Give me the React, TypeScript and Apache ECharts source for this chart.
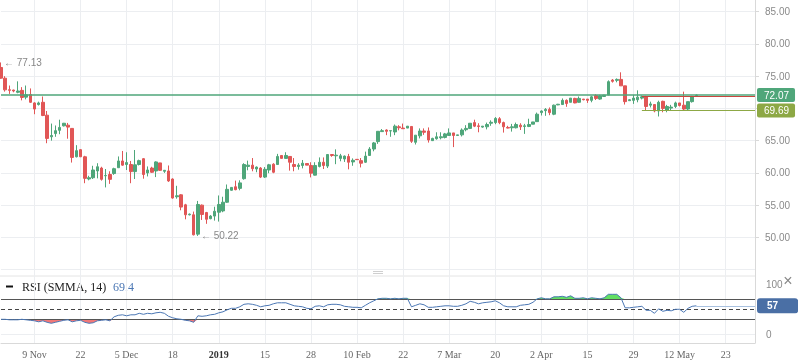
import React, { useEffect, useRef } from 'react';
import * as echarts from 'echarts';

// [open, close, low, high] per trading session
const candles: number[][] = [
  [76.35, 74.69, 74.6, 77.13], [74.69, 72.88, 72.6, 75.0], [72.9, 72.8, 72.25, 73.55], [72.85, 72.7, 72.5, 72.9],
  [72.5, 72.7, 72.35, 74.2], [72.8, 71.7, 71.25, 73.3], [71.75, 72.1, 71.4, 73.55], [72.15, 70.95, 70.85, 73.1],
  [70.85, 69.9, 69.1, 70.95], [70.6, 70.85, 70.45, 71.05], [70.95, 68.9, 68.8, 71.85], [68.95, 65.35, 64.6, 69.6],
  [65.6, 65.8, 65.0, 67.65], [66.1, 66.55, 65.6, 67.35], [66.6, 67.05, 66.0, 68.25], [67.3, 67.7, 67.2, 67.75],
  [67.4, 67.1, 65.3, 67.75], [66.9, 62.4, 61.6, 66.9], [62.5, 63.45, 62.4, 64.3], [63.6, 62.5, 62.45, 63.7],
  [62.5, 59.15, 58.4, 62.65], [59.05, 59.25, 58.85, 59.55], [59.25, 60.45, 59.05, 61.1], [60.3, 60.95, 59.15, 61.5],
  [60.75, 59.0, 58.8, 60.95], [59.55, 59.6, 57.75, 60.6], [59.75, 59.0, 58.3, 60.25], [59.9, 60.65, 59.7, 60.8],
  [60.8, 61.85, 60.8, 62.55], [61.85, 61.2, 61.1, 63.4], [61.3, 61.6, 60.45, 63.2], [61.3, 60.2, 58.4, 61.85],
  [60.2, 61.25, 59.05, 63.55], [61.3, 61.9, 61.15, 62.05], [62.2, 59.75, 59.1, 62.3], [60.0, 60.45, 59.45, 61.0],
  [60.75, 60.1, 60.0, 60.95], [60.3, 61.7, 59.35, 61.8], [61.55, 60.4, 60.3, 61.55], [60.25, 60.4, 60.0, 60.45],
  [60.3, 58.75, 58.6, 61.15], [59.05, 56.1, 56.0, 59.15], [56.3, 56.45, 56.0, 58.0], [56.6, 54.7, 54.2, 56.7],
  [55.05, 53.5, 52.8, 55.2], [53.5, 53.6, 53.4, 53.7], [53.5, 50.4, 50.3, 54.0], [50.5, 55.1, 50.22, 55.65],
  [55.0, 53.55, 52.7, 55.1], [53.85, 52.8, 52.1, 53.95], [52.9, 53.3, 52.8, 53.45], [53.3, 54.05, 52.6, 54.75],
  [53.9, 55.1, 52.45, 56.5], [54.1, 55.45, 53.9, 56.3], [55.45, 57.45, 55.35, 58.2], [57.3, 57.75, 57.25, 57.8],
  [57.85, 57.4, 57.3, 58.8], [57.6, 58.45, 57.3, 58.85], [59.1, 61.3, 58.95, 61.5], [61.0, 61.2, 60.4, 61.9],
  [61.2, 60.65, 60.25, 62.3], [60.6, 60.9, 60.1, 61.0], [60.75, 59.35, 59.2, 60.9], [59.35, 60.55, 59.2, 60.9],
  [60.45, 61.25, 59.95, 61.4], [61.35, 60.1, 59.95, 61.5], [61.3, 62.55, 61.25, 62.95], [62.7, 62.25, 62.25, 62.7],
  [62.25, 62.7, 62.2, 63.2], [62.55, 61.65, 60.35, 62.55], [61.3, 61.0, 60.25, 62.3], [61.0, 61.2, 60.5, 61.5],
  [61.15, 61.5, 60.7, 62.0], [61.45, 61.2, 61.2, 61.45], [61.15, 59.95, 59.3, 61.65], [59.65, 61.15, 59.6, 61.65],
  [61.0, 61.65, 60.85, 62.4], [61.65, 61.15, 60.6, 62.4], [61.05, 62.85, 60.75, 62.85], [62.85, 62.7, 62.5, 62.85],
  [62.65, 62.75, 61.35, 63.65], [62.25, 62.65, 61.8, 62.95], [62.15, 62.6, 61.7, 62.7], [62.55, 61.65, 60.55, 62.95],
  [61.7, 61.95, 61.1, 62.25], [62.1, 62.05, 62.05, 62.1], [61.9, 61.5, 60.85, 62.3], [61.65, 62.6, 61.55, 63.3],
  [62.7, 63.7, 62.7, 64.0], [63.7, 64.65, 63.35, 64.8], [64.85, 66.45, 64.5, 66.45], [66.4, 66.55, 66.4, 66.8],
  [66.65, 66.45, 65.85, 66.75], [66.5, 66.55, 65.6, 66.55], [66.35, 67.25, 65.85, 67.5], [67.15, 67.0, 66.6, 67.4],
  [66.95, 66.85, 66.85, 67.65], [66.95, 67.25, 66.95, 67.25], [67.2, 64.9, 64.65, 67.2], [64.75, 65.85, 64.4, 65.85],
  [65.75, 66.5, 65.35, 66.9], [66.5, 66.3, 65.9, 66.9], [66.5, 65.1, 64.7, 67.05], [65.0, 65.35, 64.95, 65.45],
  [65.3, 65.6, 65.15, 66.3], [65.45, 65.6, 65.2, 66.3], [65.5, 66.05, 65.35, 66.2], [65.8, 66.2, 65.8, 66.9],
  [66.2, 65.8, 64.0, 66.2], [65.8, 65.9, 65.8, 65.9], [65.9, 66.65, 65.65, 66.9], [66.7, 66.9, 66.45, 67.4],
  [66.9, 67.7, 66.8, 67.7], [67.8, 67.25, 67.1, 68.25], [67.3, 67.2, 66.3, 67.7], [67.1, 67.25, 67.0, 67.25],
  [67.15, 67.5, 66.75, 67.8], [67.7, 67.85, 67.3, 68.15], [67.8, 68.45, 67.55, 68.65], [68.4, 67.8, 67.55, 68.65],
  [67.8, 67.15, 66.25, 67.95], [67.05, 66.95, 66.9, 67.3], [67.0, 67.15, 66.4, 67.6], [67.0, 67.5, 66.9, 67.8],
  [67.4, 67.15, 66.65, 67.7], [67.2, 67.3, 66.05, 67.6], [67.2, 67.5, 67.1, 68.4], [67.55, 67.9, 67.55, 67.9],
  [67.95, 69.1, 67.9, 69.35], [69.35, 69.6, 68.9, 69.7], [69.65, 69.85, 68.85, 70.05], [69.85, 69.35, 68.95, 70.15],
  [69.1, 70.5, 68.95, 70.6], [70.55, 70.65, 70.5, 70.7], [70.6, 71.25, 70.55, 71.55], [71.25, 70.75, 70.25, 71.4],
  [70.95, 71.6, 70.95, 71.6], [71.55, 70.85, 70.8, 71.65], [70.95, 71.55, 70.9, 71.85], [71.45, 71.35, 71.25, 71.45],
  [71.45, 71.25, 70.85, 71.45], [71.25, 71.8, 70.95, 71.95], [72.0, 71.55, 71.3, 72.2], [71.45, 71.95, 71.35, 72.1],
  [71.85, 72.05, 71.85, 72.1], [72.07, 74.15, 72.05, 74.35], [74.4, 74.2, 74.0, 74.55], [74.35, 74.5, 74.05, 74.65],
  [74.5, 73.5, 73.5, 75.6], [73.5, 71.05, 70.6, 73.5], [71.2, 71.35, 71.15, 71.45], [71.25, 71.6, 70.7, 72.1],
  [71.35, 71.75, 70.95, 72.8], [71.6, 71.8, 71.4, 72.0], [71.8, 70.3, 69.6, 71.95], [70.5, 70.7, 70.15, 71.05],
  [70.6, 69.6, 69.4, 70.6], [69.6, 70.95, 68.75, 71.2], [71.1, 70.0, 69.4, 71.2], [69.75, 70.3, 69.4, 70.55],
  [70.05, 70.2, 69.75, 70.55], [70.3, 70.85, 70.05, 71.05], [70.85, 70.45, 70.3, 70.85], [70.5, 69.9, 69.75, 72.6],
  [69.9, 71.05, 69.75, 71.05], [71.05, 71.8, 70.9, 71.95], [72.0, 72.07, 72.0, 72.15],
];

const rsiValues: number[] = [
  30, 30, 29, 29, 29, 30, 29, 28, 27, 25,
  27, 24, 22, 24, 26, 28, 29, 25, 27, 28,
  24, 22, 23, 27, 28, 29, 27, 35, 38, 39,
  37, 39, 39, 42, 40, 42, 41, 43, 44, 42,
  36, 33, 31, 30, 28, 27, 24, 37, 36, 37,
  39, 40, 43, 45, 49, 52, 52, 55, 60, 61,
  60, 58, 55, 57, 58, 61, 63, 63, 63, 60,
  57, 56, 55, 52, 51, 56, 57, 55, 59, 60,
  60, 59, 56, 55, 54, 54, 53, 58, 63, 67,
  71, 72, 72, 71, 72, 71, 72, 72, 55, 58,
  61, 59, 54, 54, 55, 56, 57, 57, 56, 56,
  58, 61, 66, 64, 61, 63, 64, 65, 67, 63,
  57, 55, 55, 55, 58, 59, 60, 64, 71, 73,
  71, 71, 75, 75, 76, 74, 77, 72, 72, 73,
  71, 73, 72, 71, 73, 80, 80, 80, 73, 53,
  53, 54, 55, 56, 48, 48, 42, 51, 46, 48,
  47, 50, 50, 44, 52, 56, 57,
];

const tickIndexes = [8, 19, 30, 41, 52, 63, 74, 85, 96, 107, 118, 129, 140, 151, 162, 173];
const tickLabels = ['9 Nov', '22', '5 Dec', '18', '2019', '15', '28', '10 Feb', '22', '7 Mar', '20', '2 Apr', '15', '29', '12 May', '23'];
const yearLabel = '2019';
const hiddenPriceLabels = [70];
const slotCount = 181;
const lastPrice = 72.07;
const supportLevel = 69.69;
const resistanceLevel = 71.95;
const levelStartIndex = 153;
const rsiUpper = 70;
const rsiMiddle = 50;
const rsiLower = 30;
const rsiLegendTitle = 'RSI (SMMA, 14)';
const rsiLegendValue = '69.4';

const GREEN = '#4fa67a';
const RED = '#e15656';
const OLIVE = '#8da845';
const BLUE = '#4b77b4';
const GRID = '#eceef1';
const AXIS = '#d9d9d9';

export default function App() {
  const ref = useRef<HTMLDivElement>(null);

  useEffect(() => {
    if (!ref.current) return;
    const chart = echarts.init(ref.current, null, { renderer: 'svg' });
    const slots = Array.from({ length: slotCount }, (_, i) => String(i));
    const labelFor = (i: number) => {
      const k = tickIndexes.indexOf(i);
      if (k < 0) return '';
      const t = tickLabels[k];
      return t === yearLabel ? '{b|' + t + '}' : t;
    };
    const isTick = (i: number) => tickIndexes.includes(i);
    const lastRsi = rsiValues[rsiValues.length - 1];
    const lastIdx = String(rsiValues.length - 1);
    const endIdx = String(slotCount - 1);

    const boxLabel = (text: string, bg: string) => ({
      show: true,
      position: 'end',
      distance: 2,
      formatter: text,
      color: '#fff',
      backgroundColor: bg,
      fontSize: 10,
      lineHeight: 11,
      fontFamily: 'Liberation Sans',
      padding: [2, 6, 1, 7],
      borderRadius: 2,
    });

    chart.setOption({
      animation: false,
      grid: [
        { left: 1, right: 43, top: 11.7, height: 257.9 },
        { left: 1, right: 43, top: 284.3, height: 50 },
        { left: 1, right: 43, top: 0, height: 343 },
      ],
      xAxis: [
        { type: 'category', gridIndex: 0, data: slots, boundaryGap: false, show: false },
        { type: 'category', gridIndex: 1, data: slots, boundaryGap: false, show: false },
        {
          type: 'category', gridIndex: 2, data: slots, boundaryGap: false,
          axisLine: { show: true, lineStyle: { color: AXIS } },
          axisTick: { show: false },
          axisLabel: {
            interval: (i: number) => isTick(i),
            formatter: (_v: string, i: number) => labelFor(i),
            color: '#666', fontFamily: 'Liberation Serif', fontSize: 10, margin: 6,
            rich: { b: { fontWeight: 'bold', fontFamily: 'Liberation Serif', fontSize: 10, color: '#333' } },
          },
          splitLine: { show: true, interval: (i: number) => isTick(i), lineStyle: { color: GRID } },
        },
      ],
      yAxis: [
        {
          type: 'value', gridIndex: 0, position: 'right', min: 45, max: 85, interval: 5,
          axisLine: { show: false },
          axisTick: { show: true, length: 4, lineStyle: { color: AXIS } },
          axisLabel: {
            showMinLabel: false,
            formatter: (v: number) => (hiddenPriceLabels.includes(v) ? '' : v.toFixed(2)),
            color: '#8a8a8a', fontSize: 10, fontFamily: 'Liberation Sans', margin: 10,
          },
          splitLine: { lineStyle: { color: GRID } },
        },
        {
          type: 'value', gridIndex: 1, position: 'right', min: 0, max: 100, interval: 100,
          axisLine: { show: false }, axisTick: { show: false },
          axisLabel: { color: '#8a8a8a', fontSize: 10, fontFamily: 'Liberation Sans', margin: 11 },
          splitLine: { show: false },
        },
        {
          type: 'value', gridIndex: 2, position: 'right',
          axisLine: { show: true, onZero: false, lineStyle: { color: AXIS } },
          axisLabel: { show: false }, axisTick: { show: false }, splitLine: { show: false },
        },
      ],
      series: [
        {
          name: 'levels', type: 'line', xAxisIndex: 0, yAxisIndex: 0, data: [], symbol: 'none', z: 1,
          color: GREEN,
          markLine: {
            silent: true, symbol: ['none', 'none'],
            lineStyle: { type: 'solid', width: 1, color: GREEN, opacity: 1 },
            data: [
              [
                { coord: [String(levelStartIndex), resistanceLevel], lineStyle: { color: '#c9463e', type: 'solid', width: 1 }, label: { show: false } },
                { coord: [endIdx, resistanceLevel], lineStyle: { color: '#c9463e', type: 'solid', width: 1 } },
              ],
              [
                { coord: ['0', lastPrice], lineStyle: { color: GREEN, type: 'solid', width: 1.5 }, label: boxLabel(lastPrice.toFixed(2), GREEN) },
                { coord: [endIdx, lastPrice], lineStyle: { color: GREEN, type: 'solid', width: 1.5 } },
              ],
              [
                { coord: [String(levelStartIndex), supportLevel], lineStyle: { color: OLIVE, type: 'solid', width: 1 }, label: boxLabel(supportLevel.toFixed(2), OLIVE) },
                { coord: [endIdx, supportLevel], lineStyle: { color: OLIVE, type: 'solid', width: 1 } },
              ],
            ],
          },
        },
        {
          type: 'candlestick', xAxisIndex: 0, yAxisIndex: 0, data: candles, barWidth: 3, z: 3,
          itemStyle: { color: GREEN, color0: RED, borderColor: GREEN, borderColor0: RED, borderWidth: 1 },
          markPoint: {
            symbol: 'circle', symbolSize: 0, silent: true,
            label: {
              show: true, position: 'right', distance: 3, color: '#888', fontSize: 10, fontFamily: 'Liberation Sans',
              formatter: (p: any) => '\u2190 ' + Number(p.value).toFixed(2),
            },
            data: [
              { type: 'max', valueDim: 'highest' },
              { type: 'min', valueDim: 'lowest' },
            ],
          },
        },
        {
          type: 'line', xAxisIndex: 1, yAxisIndex: 1, stack: 'hi', symbol: 'none', silent: true,
          data: rsiValues.map(() => rsiUpper), lineStyle: { opacity: 0 },
        },
        {
          type: 'line', xAxisIndex: 1, yAxisIndex: 1, stack: 'hi', symbol: 'none', silent: true,
          data: rsiValues.map((v) => Math.max(v, rsiUpper) - rsiUpper), lineStyle: { opacity: 0 },
          areaStyle: { color: '#62df62', opacity: 1 },
        },
        {
          type: 'line', xAxisIndex: 1, yAxisIndex: 1, stack: 'lo', symbol: 'none', silent: true,
          data: rsiValues.map((v) => Math.min(v, rsiLower)), lineStyle: { opacity: 0 },
        },
        {
          type: 'line', xAxisIndex: 1, yAxisIndex: 1, stack: 'lo', symbol: 'none', silent: true,
          data: rsiValues.map((v) => rsiLower - Math.min(v, rsiLower)), lineStyle: { opacity: 0 },
          areaStyle: { color: '#f07878', opacity: 1 },
        },
        {
          type: 'line', xAxisIndex: 1, yAxisIndex: 1, data: rsiValues, symbol: 'none',
          lineStyle: { color: BLUE, width: 1 }, z: 5,
          markLine: {
            silent: true, symbol: ['none', 'none'], label: { show: false },
            data: [
              { yAxis: 0, lineStyle: { color: GRID, type: 'solid', width: 1 } },
              { yAxis: rsiUpper, lineStyle: { color: '#555', type: 'solid', width: 1 } },
              { yAxis: rsiLower, lineStyle: { color: '#555', type: 'solid', width: 1 } },
              { yAxis: rsiMiddle, lineStyle: { color: '#444', type: [4, 3], width: 1 } },
              [
                {
                  coord: [lastIdx, lastRsi], lineStyle: { color: '#a9c1df', type: 'solid', width: 1 },
                  label: {
                    show: true, position: 'end', distance: 2, formatter: String(Math.round(lastRsi)),
                    color: '#fff', backgroundColor: '#4a6fa5', fontSize: 10, fontWeight: 'bold',
                    fontFamily: 'Liberation Sans', padding: [3, 20, 2, 10], borderRadius: 3,
                  },
                },
                { coord: [endIdx, lastRsi] },
              ],
            ],
          },
        },
      ],
      graphic: [
        { type: 'line', silent: true, shape: { x1: 0, y1: 276, x2: 755, y2: 276 }, style: { stroke: '#e4e4e4', lineWidth: 1 } },
        { type: 'line', silent: true, shape: { x1: 373, y1: 269.5, x2: 383, y2: 269.5 }, style: { stroke: '#cfcfcf', lineWidth: 1 } },
        { type: 'line', silent: true, shape: { x1: 373, y1: 271.5, x2: 383, y2: 271.5 }, style: { stroke: '#cfcfcf', lineWidth: 1 } },
        { type: 'line', silent: true, shape: { x1: 373, y1: 273.5, x2: 383, y2: 273.5 }, style: { stroke: '#cfcfcf', lineWidth: 1 } },
        { type: 'rect', silent: true, shape: { x: 6, y: 285.5, width: 7, height: 2 }, style: { fill: '#111' } },
        {
          type: 'text', silent: true, x: 22, y: 287,
          style: { text: rsiLegendTitle, fill: '#222', font: '12px "Liberation Serif"', verticalAlign: 'middle' },
        },
        {
          type: 'text', silent: true, x: 113, y: 287,
          style: { text: rsiLegendValue, fill: BLUE, font: '12px "Liberation Serif"', verticalAlign: 'middle' },
        },
        {
          type: 'text', silent: true, x: 788, y: 280,
          style: { text: '\u00d7', fill: '#888', font: '16px "Liberation Sans"', align: 'center', verticalAlign: 'middle' },
        },
      ],
    });
    return () => chart.dispose();
  }, []);

  return <div ref={ref} style={{ position: 'fixed', left: 0, top: 0, width: 798, height: 363 }} />;
}
